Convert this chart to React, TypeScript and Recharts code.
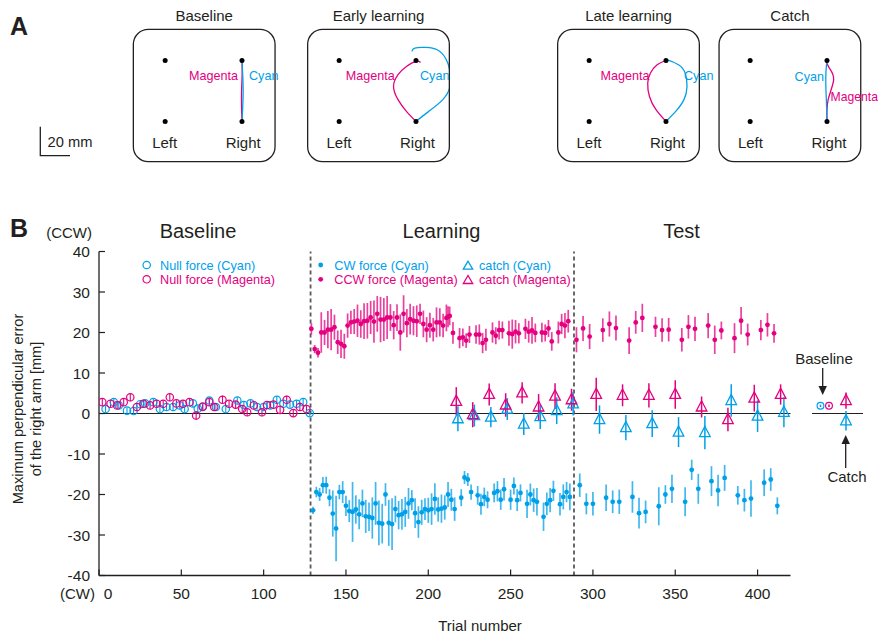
import React from 'react';
import { ComposedChart, Scatter, XAxis, YAxis, ReferenceLine, ErrorBar } from 'recharts';

const CYAN = '#00a0e9';
const MAGENTA = '#e4007f';
const INK = '#231f20';
const DASH = '#5a5a5a';
const FONT = '"Liberation Sans", Arial, Helvetica, sans-serif';

// ---------- Panel B data ----------
const xTicks = [0, 50, 100, 150, 200, 250, 300, 350, 400];
const yTicks = [-40, -30, -20, -10, 0, 10, 20, 30, 40];
const phaseBounds = [128.5, 288.5];
const phaseTitles = ['Baseline', 'Learning', 'Test'];

// [trial, error mm, sd]
const nullCyanRows = [
  [4, 1.1, 0.8], [9, 2.8, 0.9], [12, 2.0, 0.7], [17, 0.7, 0.8], [21, 0.6, 0.9], [25, 2.3, 0.8], [28, 2.5, 0.7],
  [33, 2.8, 0.9], [37, 1.1, 0.8], [41, 1.6, 0.7], [45, 1.6, 0.9], [49, 2.0, 0.8], [52, 1.1, 0.7], [57, 2.5, 0.9],
  [60, 1.2, 0.8], [63, 1.6, 0.7], [67, 3.2, 0.8], [71, 1.6, 0.9], [77, 1.1, 0.7], [84, 3.2, 0.8], [88, 2.1, 0.9],
  [92, 2.5, 0.8], [96, 1.6, 0.7], [100, 1.6, 0.8], [104, 2.0, 0.9], [108, 3.4, 0.8], [112, 2.4, 0.7], [116, 2.2, 0.8],
  [120, 2.4, 0.9], [124, 2.8, 0.8], [128, 0.1, 0.8],
];
const nullMagentaRows = [
  [2, 2.8, 0.9], [7, 2.4, 0.8], [11, 2.0, 0.8], [15, 2.8, 0.9], [19, 4.0, 1.0], [23, 1.6, 0.8], [27, 2.4, 0.9],
  [31, 2.0, 0.8], [35, 2.4, 0.8], [39, 2.4, 0.9], [43, 4.0, 1.0], [47, 2.5, 0.8], [51, 2.4, 0.9], [55, 2.8, 0.8],
  [59, -0.5, 1.1], [63, 1.7, 0.8], [67, 2.8, 0.9], [70, 1.6, 0.8], [75, 3.4, 1.0], [79, 2.4, 0.8], [83, 2.2, 0.9],
  [87, 1.1, 0.8], [90, 0.3, 0.9], [94, 2.0, 0.8], [99, 0.3, 1.0], [102, 2.1, 0.8], [106, 2.2, 0.9], [110, 0.9, 0.8],
  [114, 3.4, 1.0], [118, 0.1, 0.9], [122, 1.6, 0.8], [126, 1.1, 0.9],
];
const ccwMagentaRows = [
  [129, 20.9, 1.4], [131, 15.9, 1.0], [133, 15.0, 1.2], [135, 20.0, 5.0], [137, 20.0, 3.1], [139, 20.7, 4.6],
  [141, 20.7, 5.1], [143, 21.3, 3.1], [145, 17.6, 2.9], [147, 17.2, 3.5], [149, 16.6, 3.1], [151, 21.7, 3.0],
  [153, 22.5, 2.9], [155, 22.7, 3.1], [157, 22.9, 4.0], [159, 22.1, 3.4], [161, 22.8, 4.4], [163, 22.9, 4.4],
  [165, 23.7, 4.1], [167, 22.7, 5.2], [169, 24.6, 4.4], [171, 23.2, 5.6], [173, 23.2, 5.3], [175, 23.7, 5.3],
  [177, 23.7, 3.3], [179, 21.8, 3.5], [181, 23.7, 3.3], [183, 20.0, 4.5], [185, 24.6, 4.6], [187, 22.3, 3.5],
  [189, 23.3, 3.8], [191, 22.9, 3.6], [193, 22.8, 3.9], [195, 24.6, 2.5], [197, 22.1, 3.3], [199, 20.7, 3.1],
  [201, 21.8, 3.1], [203, 20.7, 2.9], [205, 22.5, 3.7], [207, 22.5, 3.5], [209, 21.7, 2.9], [211, 23.6, 3.3],
  [212, 23.9, 2.6], [213, 24.1, 2.3], [215, 19.9, 2.7], [219, 18.6, 2.5], [221, 18.8, 2.2], [223, 18.0, 1.8],
  [225, 19.5, 2.1], [229, 19.5, 2.3], [231, 19.5, 2.5], [233, 17.4, 2.5], [235, 18.2, 2.7], [239, 20.0, 2.5],
  [241, 19.2, 2.1], [243, 20.6, 2.3], [245, 20.6, 2.1], [249, 19.8, 3.1], [251, 19.6, 3.6], [253, 20.2, 2.9],
  [255, 19.8, 2.5], [259, 20.9, 2.5], [261, 20.2, 2.7], [263, 20.5, 3.3], [265, 19.9, 2.3], [269, 20.0, 2.4],
  [271, 19.9, 2.1], [273, 21.0, 2.1], [275, 17.8, 2.3], [279, 20.0, 2.7], [281, 22.1, 2.5], [283, 21.7, 3.1],
  [285, 22.8, 2.8],
  [290, 18.2, 3.1], [294, 21.0, 3.1], [298, 19.0, 3.1], [306, 20.6, 2.9], [310, 22.1, 3.1], [314, 21.1, 3.1],
  [322, 18.0, 3.3], [326, 22.5, 2.8], [330, 23.6, 3.5], [338, 21.4, 2.5], [342, 20.6, 2.9], [346, 20.7, 2.9],
  [354, 18.2, 2.9], [358, 21.4, 2.9], [362, 20.9, 3.0], [370, 21.7, 3.1], [374, 18.2, 3.5], [378, 20.5, 2.2],
  [386, 18.6, 3.7], [390, 22.9, 3.4], [394, 19.5, 2.7], [402, 20.6, 2.5], [406, 21.9, 2.9], [410, 19.8, 2.3],
];
const cwCyanRows = [
  [130, -23.9, 0.9], [132, -19.4, 1.3], [134, -20.0, 1.6], [136, -17.7, 2.0], [138, -17.7, 2.1], [140, -20.8, 2.1],
  [142, -24.7, 5.7], [144, -28.4, 8.1], [146, -19.4, 1.8], [148, -19.4, 2.7], [150, -22.8, 2.5], [152, -24.1, 2.7],
  [154, -24.3, 7.4], [156, -23.7, 3.5], [158, -24.9, 3.7], [160, -22.2, 3.4], [162, -25.4, 4.1], [164, -25.5, 3.5],
  [166, -25.8, 5.1], [168, -22.2, 5.3], [170, -27.0, 5.5], [172, -27.2, 4.9], [174, -20.0, 2.8], [176, -27.0, 5.7],
  [178, -27.3, 6.4], [180, -23.6, 3.3], [182, -25.1, 3.5], [184, -24.9, 3.8], [186, -24.3, 3.7], [188, -22.2, 3.8],
  [190, -21.4, 2.5], [192, -24.6, 3.7], [194, -26.8, 3.9], [196, -24.4, 3.1], [198, -23.6, 2.7], [200, -23.9, 3.1],
  [202, -23.6, 3.9], [204, -21.1, 3.9], [206, -23.7, 3.0], [208, -23.5, 3.5], [210, -23.2, 3.0], [212, -20.0, 3.1],
  [214, -21.3, 2.7], [216, -23.6, 2.9], [220, -20.8, 2.1], [222, -15.8, 1.6], [224, -16.3, 1.6], [226, -19.4, 1.9],
  [230, -20.2, 2.3], [232, -22.4, 2.6], [234, -20.6, 2.3], [236, -21.3, 2.1], [240, -19.6, 2.3], [242, -19.2, 2.5],
  [244, -21.3, 2.5], [246, -18.7, 2.8], [250, -21.3, 2.5], [252, -17.9, 2.1], [254, -21.4, 2.7], [256, -19.6, 2.1],
  [260, -22.3, 3.5], [262, -20.0, 2.7], [264, -21.4, 2.9], [266, -21.8, 3.4], [270, -25.5, 3.5], [272, -22.3, 2.8],
  [274, -21.4, 3.0], [276, -19.1, 2.5], [280, -22.4, 2.8], [282, -20.6, 3.1], [284, -19.4, 2.5], [286, -20.6, 3.3],
  [292, -17.7, 2.9], [296, -22.3, 2.6], [300, -22.3, 2.9], [308, -20.8, 3.3], [312, -21.8, 2.8], [316, -21.8, 3.0],
  [324, -20.6, 3.9], [328, -24.6, 3.8], [332, -24.3, 2.8], [340, -22.9, 4.7], [344, -20.0, 2.3], [348, -18.6, 3.5],
  [356, -21.8, 3.6], [360, -13.9, 2.5], [364, -18.6, 3.7], [372, -16.7, 3.7], [376, -19.0, 3.9], [380, -15.9, 3.2],
  [388, -20.2, 2.3], [392, -21.4, 2.8], [396, -21.0, 4.5], [404, -17.1, 3.3], [408, -16.3, 2.8], [412, -22.8, 2.1],
];
const catchMagentaRows = [
  [217, 3.0, 3.5], [227, -0.3, 3.1], [237, 4.7, 2.7], [247, 2.1, 2.9], [257, 5.1, 2.6], [267, 1.6, 3.2],
  [277, 4.3, 3.2], [287, 3.4, 2.7], [302, 4.7, 4.1], [318, 4.5, 2.7], [334, 4.5, 3.0], [350, 4.7, 3.5],
  [366, 1.6, 2.6], [382, -1.5, 2.9], [398, 3.8, 3.3], [414, 4.7, 2.5],
];
const catchCyanRows = [
  [218, -1.3, 3.1], [228, -0.5, 2.7], [238, -0.9, 2.5], [248, 1.1, 2.7], [258, -2.6, 2.7], [268, -0.75, 3.1],
  [278, 0.7, 3.3], [288, 2.4, 2.9], [304, -1.5, 3.5], [320, -3.5, 3.1], [336, -2.5, 3.3], [352, -4.6, 3.7],
  [368, -4.7, 4.1], [384, 3.2, 4.0], [400, -0.65, 3.9], [416, 0.3, 3.7],
];
// summary inset: [position, error mm, sd]
const summaryBaselineCyan = [[0.5, 1.9, 0.3]];
const summaryBaselineMagenta = [[1.0, 1.9, 0.3]];
const summaryCatchMagenta = [[2.0, 3.2, 2.0]];
const summaryCatchCyan = [[2.0, -1.8, 2.4]];

// ---------- Panel A data (mm, origin at Right start target) ----------
const targets = [[-53, 0], [-53, 42], [0, 0], [0, 42]];
const baselineMagentaPath = [[0, 0], [-0.3, 10], [-0.3, 21], [0.1, 32], [0, 42]];
const baselineCyanPath = [[0, 0], [0.5, 10], [0.8, 21], [0.5, 32], [0, 42]];
const earlyMagentaPath = [[0, 0], [-6.6, 6.9], [-12.4, 15], [-15.5, 24.1], [-12.4, 32.2], [-6.6, 37.9], [0, 41.4], [3.1, 40.7]];
const earlyCyanPath = [[0, 0], [8.8, 6.9], [18.5, 15], [23.5, 24.1], [23.5, 34.5], [20.3, 43.7], [14.6, 49.4], [6.9, 51], [-0.8, 50.6], [-2.8, 48.3]];
const lateMagentaPath = [[0, 0], [-6.9, 8.1], [-11.4, 17.2], [-12.6, 26.5], [-10.7, 33.4], [-6.1, 39.1], [0, 42]];
const lateCyanPath = [[0, 0], [6.7, 6.9], [12.4, 15], [14.5, 24.1], [13.2, 33.4], [8.6, 39.1], [0.9, 42.5], [0, 42]];
const catchCyanPath = [[0, 0], [-0.4, 13.8], [-0.8, 24], [-0.7, 34.5], [0, 42]];
const catchMagentaPath = [[0, 0], [0.8, 15], [4.6, 28.8], [1.6, 36.8], [-0.8, 42]];

const toTVE = (rows: number[][]) => rows.map(([t, v, e]) => ({ t, v, e }));
const toXY = (rows: number[][]) => rows.map(([x, y]) => ({ x, y }));

// ---------- shapes ----------
const dotShape = (color: string) => (p: any) => <circle cx={p.cx} cy={p.cy} r={2.4} fill={color} />;
const ringShape = (color: string, r = 3.7) => (p: any) => (
  <circle cx={p.cx} cy={p.cy} r={r} fill="none" stroke={color} strokeWidth={1.2} />
);
const triShape = (color: string) => (p: any) => (
  <polygon
    points={`${p.cx},${p.cy - 6.2} ${p.cx - 5.3},${p.cy + 4} ${p.cx + 5.3},${p.cy + 4}`}
    fill="none"
    stroke={color}
    strokeWidth={1.3}
  />
);
const noShape = () => <g />;
const targetShape = (p: any) => <circle cx={p.cx} cy={p.cy} r={2.5} fill="#000" />;

const XTick = (p: any) => {
  const { x, y, payload } = p;
  const dx = payload.value === 0 ? 9 : 0;
  return (
    <g>
      <line x1={x} x2={x} y1={y} y2={y - 6} stroke={INK} strokeWidth={1.2} />
      <text x={x + dx} y={y + 23} textAnchor="middle" fontSize={15.5} fill={INK} fontFamily={FONT}>
        {payload.value}
      </text>
    </g>
  );
};
const YTick = (p: any) => {
  const { x, y, payload } = p;
  return (
    <g>
      <line x1={x} x2={x + 6} y1={y} y2={y} stroke={INK} strokeWidth={1.2} />
      <text x={x - 9} y={y + 5.5} textAnchor="end" fontSize={15.5} fill={INK} fontFamily={FONT}>
        {payload.value}
      </text>
    </g>
  );
};

// ---------- Panel A mini charts ----------
const PX_PER_MM = 1.45;
const BOX_W = 143;
const BOX_H = 132.4;
const BOX_TOP = 29.3;
const RIGHT_OFF = 109;
const BOTTOM_OFF = 92.4;
const xDomA = [-RIGHT_OFF / PX_PER_MM, (BOX_W - RIGHT_OFF) / PX_PER_MM];
const yDomA = [-(BOX_H - BOTTOM_OFF) / PX_PER_MM, BOTTOM_OFF / PX_PER_MM];

const boxes = [
  { left: 132.7, title: 'Baseline', cyan: baselineCyanPath, magenta: baselineMagentaPath },
  { left: 307, title: 'Early learning', cyan: earlyCyanPath, magenta: earlyMagentaPath },
  { left: 557, title: 'Late learning', cyan: lateCyanPath, magenta: lateMagentaPath },
  { left: 718.4, title: 'Catch', cyan: catchCyanPath, magenta: catchMagentaPath },
];

function Mini({ left, cyan, magenta }: any) {
  return (
    <div style={{ position: 'absolute', left, top: BOX_TOP, width: BOX_W, height: BOX_H }}>
      <ComposedChart width={BOX_W} height={BOX_H} margin={{ top: 0, right: 0, bottom: 0, left: 0 }}>
        <XAxis type="number" dataKey="x" domain={xDomA} hide allowDataOverflow />
        <YAxis type="number" dataKey="y" domain={yDomA} hide allowDataOverflow />
        <Scatter
          data={toXY(magenta)}
          line={{ stroke: MAGENTA, strokeWidth: 1.3 }}
          lineJointType="natural"
          shape={noShape}
          fill={MAGENTA}
          isAnimationActive={false}
        />
        <Scatter
          data={toXY(cyan)}
          line={{ stroke: CYAN, strokeWidth: 1.3 }}
          lineJointType="natural"
          shape={noShape}
          fill={CYAN}
          isAnimationActive={false}
        />
        <Scatter data={toXY(targets)} shape={targetShape} isAnimationActive={false} />
      </ComposedChart>
    </div>
  );
}

// ---------- main plot geometry ----------
const PLOT_LEFT = 99;
const PLOT_TOP = 251.5;
const PLOT_RIGHT = 790.5;
const PLOT_BOTTOM = 575.5;
const W = 878;
const H = 638;
const Y_AXIS_W = 40;
const X_AXIS_H = 30;

export default function App() {
  const t = (x: number, y: number, s: string, size: number, opts: any = {}) => (
    <text x={x} y={y} fontSize={size} fontFamily={FONT} fill={opts.fill || INK} textAnchor={opts.anchor || 'start'} fontWeight={opts.weight || 'normal'}>
      {s}
    </text>
  );
  const phaseX = [198, 441.5, 681.5];
  return (
    <div style={{ position: 'absolute', left: 0, top: 0, width: W, height: H, background: '#fff', fontFamily: FONT }}>
      {boxes.map((b) => (
        <Mini key={b.title} left={b.left} cyan={b.cyan} magenta={b.magenta} />
      ))}

      {/* Main chart */}
      <div style={{ position: 'absolute', left: 0, top: 0 }}>
        <ComposedChart
          width={W}
          height={H}
          margin={{
            top: PLOT_TOP,
            right: W - PLOT_RIGHT,
            bottom: H - PLOT_BOTTOM - X_AXIS_H,
            left: PLOT_LEFT - Y_AXIS_W,
          }}
        >
          <XAxis
            type="number"
            dataKey="t"
            domain={[0, 420]}
            ticks={xTicks}
            interval={0}
            height={X_AXIS_H}
            tickSize={0}
            tickMargin={0}
            tickLine={false}
            axisLine={{ stroke: INK, strokeWidth: 1.3 }}
            tick={(p: any) => <XTick {...p} />}
            allowDataOverflow
          />
          <YAxis
            type="number"
            dataKey="v"
            domain={[-40, 40]}
            ticks={yTicks}
            interval={0}
            width={Y_AXIS_W}
            tickSize={0}
            tickMargin={0}
            tickLine={false}
            axisLine={{ stroke: INK, strokeWidth: 1.3 }}
            tick={(p: any) => <YTick {...p} />}
            allowDataOverflow
          />
          <ReferenceLine y={0} stroke={INK} strokeWidth={1.2} />
          {phaseBounds.map((b) => (
            <ReferenceLine key={b} x={b} stroke={DASH} strokeWidth={1.8} strokeDasharray="4 3" />
          ))}
          <Scatter data={toTVE(nullCyanRows)} shape={ringShape(CYAN)} isAnimationActive={false}>
            <ErrorBar dataKey="e" direction="y" width={0} stroke={CYAN} strokeWidth={1.1} />
          </Scatter>
          <Scatter data={toTVE(nullMagentaRows)} shape={ringShape(MAGENTA)} isAnimationActive={false}>
            <ErrorBar dataKey="e" direction="y" width={0} stroke={MAGENTA} strokeWidth={1.1} />
          </Scatter>
          <Scatter data={toTVE(ccwMagentaRows)} shape={dotShape(MAGENTA)} isAnimationActive={false}>
            <ErrorBar dataKey="e" direction="y" width={0} stroke={MAGENTA} strokeOpacity={0.75} strokeWidth={1.7} />
          </Scatter>
          <Scatter data={toTVE(cwCyanRows)} shape={dotShape(CYAN)} isAnimationActive={false}>
            <ErrorBar dataKey="e" direction="y" width={0} stroke={CYAN} strokeOpacity={0.75} strokeWidth={1.7} />
          </Scatter>
          <Scatter data={toTVE(catchCyanRows)} shape={triShape(CYAN)} isAnimationActive={false}>
            <ErrorBar dataKey="e" direction="y" width={0} stroke={CYAN} strokeWidth={1.5} />
          </Scatter>
          <Scatter data={toTVE(catchMagentaRows)} shape={triShape(MAGENTA)} isAnimationActive={false}>
            <ErrorBar dataKey="e" direction="y" width={0} stroke={MAGENTA} strokeWidth={1.5} />
          </Scatter>
        </ComposedChart>
      </div>

      {/* Summary inset */}
      <div style={{ position: 'absolute', left: 0, top: 0 }}>
        <ComposedChart width={W} height={H} margin={{ top: PLOT_TOP, right: W - 863, bottom: H - PLOT_BOTTOM, left: 812 }}>
          <XAxis type="number" dataKey="t" domain={[0, 3]} hide allowDataOverflow />
          <YAxis type="number" dataKey="v" domain={[-40, 40]} hide allowDataOverflow />
          <ReferenceLine y={0} stroke={INK} strokeWidth={1.2} />
          <Scatter data={toTVE(summaryBaselineCyan)} shape={ringShape(CYAN, 3.4)} isAnimationActive={false}>
            <ErrorBar dataKey="e" direction="y" width={0} stroke={CYAN} strokeWidth={1.6} />
          </Scatter>
          <Scatter data={toTVE(summaryBaselineMagenta)} shape={ringShape(MAGENTA, 3.4)} isAnimationActive={false}>
            <ErrorBar dataKey="e" direction="y" width={0} stroke={MAGENTA} strokeWidth={1.6} />
          </Scatter>
          <Scatter data={toTVE(summaryCatchMagenta)} shape={triShape(MAGENTA)} isAnimationActive={false}>
            <ErrorBar dataKey="e" direction="y" width={0} stroke={MAGENTA} strokeWidth={1.5} />
          </Scatter>
          <Scatter data={toTVE(summaryCatchCyan)} shape={triShape(CYAN)} isAnimationActive={false}>
            <ErrorBar dataKey="e" direction="y" width={0} stroke={CYAN} strokeWidth={1.5} />
          </Scatter>
        </ComposedChart>
      </div>

      {/* Annotations */}
      <svg width={W} height={H} style={{ position: 'absolute', left: 0, top: 0, pointerEvents: 'none' }}>
        {/* Panel A */}
        {t(10, 35, 'A', 25, { weight: 'bold' })}
        {boxes.map((b) => (
          <g key={b.title}>
            <rect x={b.left + 0.65} y={BOX_TOP} width={BOX_W - 1.3} height={BOX_H} rx={15} ry={15} fill="none" stroke={INK} strokeWidth={1.3} />
            {t(b.left + BOX_W / 2, 21, b.title, 15, { anchor: 'middle' })}
            {t(b.left + 32, 148, 'Left', 15, { anchor: 'middle' })}
            {t(b.left + RIGHT_OFF + 1.5, 148, 'Right', 15, { anchor: 'middle' })}
          </g>
        ))}
        {t(238, 79.5, 'Magenta', 12.6, { anchor: 'end', fill: MAGENTA })}
        {t(249, 79.5, 'Cyan', 12.6, { fill: CYAN })}
        {t(394.7, 79.5, 'Magenta', 12.6, { anchor: 'end', fill: MAGENTA })}
        {t(420, 79.5, 'Cyan', 12.6, { fill: CYAN })}
        {t(649.5, 79.5, 'Magenta', 12.6, { anchor: 'end', fill: MAGENTA })}
        {t(684, 79.5, 'Cyan', 12.6, { fill: CYAN })}
        {t(824, 80.5, 'Cyan', 12.6, { anchor: 'end', fill: CYAN })}
        {t(830.5, 100.5, 'Magenta', 12.2, { fill: MAGENTA })}
        <path d="M40.3,126.7 L40.3,155.7 L70,155.7" fill="none" stroke={INK} strokeWidth={1.3} />
        {t(47.6, 147, '20 mm', 14.7)}

        {/* Panel B */}
        {t(10, 237, 'B', 25, { weight: 'bold' })}
        {phaseTitles.map((s, i) => (
          <g key={s}>{t(phaseX[i], 238, s, 20, { anchor: 'middle' })}</g>
        ))}
        {t(92, 237.5, '(CCW)', 15, { anchor: 'end' })}
        {t(95, 598.5, '(CW)', 15, { anchor: 'end' })}
        {t(480, 631, 'Trial number', 15, { anchor: 'middle' })}
        <g transform="translate(23,409) rotate(-90)">
          <text x={0} y={0} textAnchor="middle" fontSize={14.6} fontFamily={FONT} fill={INK}>Maximum perpendicular error</text>
          <text x={0} y={18} textAnchor="middle" fontSize={14.6} fontFamily={FONT} fill={INK}>of the right arm [mm]</text>
        </g>

        {/* legend */}
        <circle cx={146.7} cy={265} r={3.7} fill="none" stroke={CYAN} strokeWidth={1.2} />
        {t(160, 269.5, 'Null force (Cyan)', 12.7, { fill: CYAN })}
        <circle cx={146.7} cy={279.3} r={3.7} fill="none" stroke={MAGENTA} strokeWidth={1.2} />
        {t(160, 283.8, 'Null force (Magenta)', 12.7, { fill: MAGENTA })}
        <circle cx={320.7} cy={265} r={2.4} fill={CYAN} />
        {t(334.3, 269.5, 'CW force (Cyan)', 12.7, { fill: CYAN })}
        <circle cx={320.7} cy={279.3} r={2.4} fill={MAGENTA} />
        {t(334.3, 283.8, 'CCW force (Magenta)', 12.7, { fill: MAGENTA })}
        <polygon points="468,261.2 463.3,269.2 472.7,269.2" fill="none" stroke={CYAN} strokeWidth={1.3} />
        {t(479, 269.5, 'catch (Cyan)', 12.7, { fill: CYAN })}
        <polygon points="468,275.5 463.3,283.5 472.7,283.5" fill="none" stroke={MAGENTA} strokeWidth={1.3} />
        {t(479, 283.8, 'catch (Magenta)', 12.7, { fill: MAGENTA })}

        {/* inset annotations */}
        {t(824, 363.5, 'Baseline', 15, { anchor: 'middle' })}
        <line x1={822.7} x2={822.7} y1={368} y2={388} stroke={INK} strokeWidth={1.3} />
        <polygon points="818.5,386 826.9,386 822.7,395" fill={INK} />
        {t(847, 482, 'Catch', 15, { anchor: 'middle' })}
        <line x1={845.7} x2={845.7} y1={441} y2={468} stroke={INK} strokeWidth={1.3} />
        <polygon points="841.5,444 849.9,444 845.7,435" fill={INK} />
      </svg>
    </div>
  );
}
